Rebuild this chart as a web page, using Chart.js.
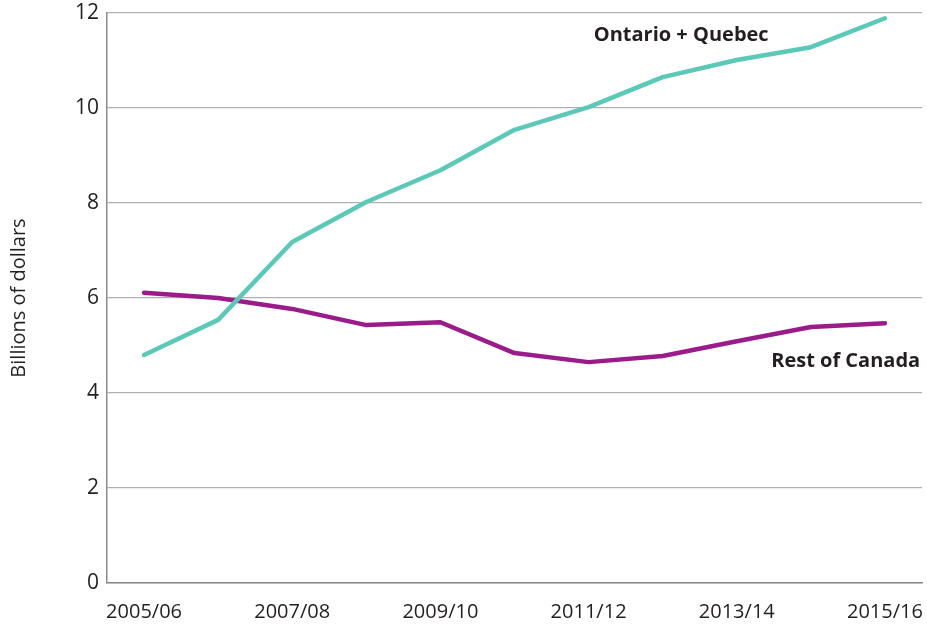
<!DOCTYPE html>
<html><head><meta charset="utf-8">
<script src="https://cdn.jsdelivr.net/npm/chart.js@4/dist/chart.umd.min.js"></script>
<style>html,body{margin:0;padding:0;background:#fff;}#wrap{width:927px;height:630px;}</style>
</head><body><div id="wrap"><canvas id="c" width="927" height="630"></canvas></div>
<script>
const categories = ["2005/06","2006/07","2007/08","2008/09","2009/10","2010/11","2011/12","2012/13","2013/14","2014/15","2015/16"];
const ontarioQuebec = [4.80, 5.54, 7.18, 8.02, 8.69, 9.54, 10.02, 10.65, 11.01, 11.28, 11.89];
const restOfCanada = [6.11, 6.00, 5.77, 5.43, 5.49, 4.84, 4.65, 4.78, 5.09, 5.39, 5.47];
const yTicks = [0, 2, 4, 6, 8, 10, 12];
const seriesLabels = [
  {text: "Ontario + Quebec", x: 7.25, y: 11.54},
  {text: "Rest of Canada", x: 9.47, y: 4.67}
];

const FONT = "'Open Sans', 'DejaVu Sans', sans-serif";
const labelPlugin = {
  id: 'seriesLabels',
  afterDatasetsDraw(chart) {
    const ctx = chart.ctx;
    const xs = chart.scales.x, ys = chart.scales.y;
    ctx.save();
    ctx.font = "bold 20px " + FONT;
    ctx.fillStyle = "#231f20";
    ctx.textAlign = "center";
    ctx.textBaseline = "middle";
    seriesLabels.forEach(l => {
      ctx.fillText(l.text, xs.getPixelForValue(l.x), ys.getPixelForValue(l.y));
    });
    ctx.restore();
  }
};

new Chart(document.getElementById('c'), {
  type: 'line',
  data: {
    labels: categories,
    datasets: [
      {label: "Ontario + Quebec", data: ontarioQuebec, borderColor: "#5bc8b8", borderWidth: 4.5, pointRadius: 0, tension: 0, borderCapStyle: 'round', borderJoinStyle: 'round'},
      {label: "Rest of Canada", data: restOfCanada, borderColor: "#9b1b8b", borderWidth: 4.5, pointRadius: 0, tension: 0, borderCapStyle: 'round', borderJoinStyle: 'round'}
    ]
  },
  options: {
    responsive: false,
    animation: false,
    layout: {padding: {top: 13, right: 5, left: 0, bottom: 0}},
    plugins: {legend: {display: false}, tooltip: {enabled: false}},
    scales: {
      x: {
        offset: true,
        grid: {display: false, drawTicks: false},
        border: {display: true, color: "#8a8a8a", width: 1.5},
        ticks: {
          autoSkip: false, maxRotation: 0, padding: 17,
          color: "#231f20", font: {family: FONT, size: 20},
          callback: function(v, i) { return i % 2 === 0 ? categories[i] : ""; }
        },
        afterFit(s) { s.height = 47; s.paddingLeft = 0; s.paddingRight = 0; }
      },
      y: {
        min: 0, max: 12,
        afterBuildTicks(s) { s.ticks = yTicks.map(v => ({value: v})); },
        grid: {color: "#b0b0b0", lineWidth: 1.2, drawTicks: false},
        border: {display: true, color: "#8a8a8a", width: 1.5},
        ticks: {padding: 8, color: "#231f20", font: {family: FONT, size: 21}},
        title: {display: true, text: "Billions of dollars", color: "#231f20", font: {family: FONT, size: 20}, padding: {top: 7, bottom: 12}},
        afterFit(s) { s.width = 107; s.paddingTop = 0; s.paddingBottom = 0; }
      }
    }
  },
  plugins: [labelPlugin]
});
</script>
</body></html>
